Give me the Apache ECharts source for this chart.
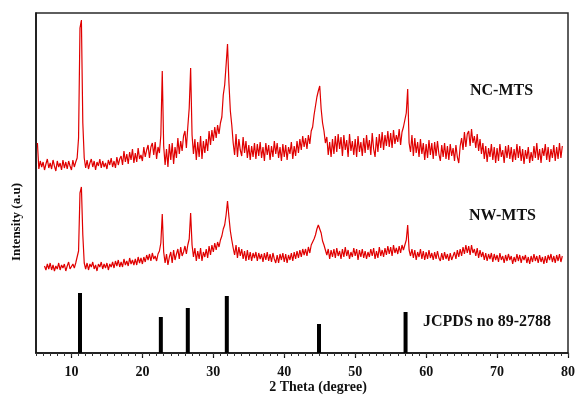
<!DOCTYPE html>
<html><head><meta charset="utf-8">
<script src="https://cdn.jsdelivr.net/npm/echarts@6/dist/echarts.min.js"></script>
<style>html,body{margin:0;padding:0;background:#fff}#c{width:578px;height:397px}</style>
</head><body><div id="c"></div>
<script>
// 2-theta sampling of the traces (degrees)
const ncStart = 5.2, nwStart = 6.2, thetaStep = 0.2;

// NC-MTS intensity (a.u., offset trace), one value per 0.2 deg from 5.2
const ncMts = [
  210,184,192,186,
  191,183,189,194,185, 190,184,193,187,182, 192,186,190,183,193, 185,191,184,192,187,
  183,193,186,191,195, 215,325,333,230,195, 185,193,184,190,194, 186,192,183,191,187,
  194,185,192,186,190, 184,193,188,195,186, 192,185,196,188,194, 197,188,202,191,199,
  189,201,193,204,190, 200,191,205,194,198, 192,206,196,203,208, 195,206,210,198,211,
  194,206,200,218,282, 207,188,204,186,209, 193,210,189,206,195, 215,199,212,202,217,
  222,205,226,245,285, 218,199,214,193,211, 196,217,194,212,200, 214,202,222,208,223,
  212,226,215,228,219, 230,236,258,268,288, 309,270,242,228,210, 198,219,196,214,203,
  197,216,200,212,195, 208,193,207,196,210, 194,209,197,211,195, 206,192,210,198,208,
  193,207,196,212,199, 210,195,206,192,209, 196,208,193,206,199, 211,194,207,197,212,
  200,214,203,217,206, 215,204,218,209,222, 226,238,247,256,262, 267,244,230,222,210,
  216,198,211,196,214, 199,217,201,219,204, 216,197,218,203,213, 196,219,202,212,198,
  214,196,217,201,211, 197,215,200,218,203, 213,198,220,204,196, 216,201,219,205,221,
  203,218,207,222,206, 220,205,223,209,218, 211,224,208,221,226, 228,240,264,210,201,
  218,197,215,200,211, 196,214,199,210,193, 209,195,213,198,210, 194,211,197,212,199,
  192,208,196,210,194, 207,193,209,197,205, 192,208,196,190,207, 215,203,221,206,219,
  222,207,224,210,217, 205,219,202,214,199, 210,194,207,191,205, 196,209,193,206,190,
  205,192,209,196,203, 190,207,195,208,194, 206,191,204,193,209, 195,207,192,204,189,
  203,194,206,190,201, 192,207,195,210,193, 204,190,205,197,209, 193,206,191,204,195,
  208,192,206,194,210, 195,207
];

// NW-MTS intensity (a.u., offset trace), one value per 0.2 deg from 6.2
const nwMts = [
  87,83,89,84,
  90,83,88,82,87, 84,90,83,88,85, 89,82,87,91,84, 83,89,85,90,92,
  102,160,166,118,90, 84,90,83,89,86, 91,84,88,82,89, 86,91,84,89,85,
  90,83,89,86,91, 85,92,87,93,86, 91,86,94,88,92, 87,95,89,93,88,
  94,88,96,90,95, 89,96,91,98,93, 99,92,100,94,97, 92,99,102,110,139,
  101,90,99,88,96, 101,90,103,93,99, 104,94,106,97,101, 107,99,108,114,140,
  108,96,105,92,102, 94,105,92,101,96, 104,95,107,98,108, 101,110,103,111,106,
  113,117,124,128,138, 152,136,122,113,105, 98,108,95,106,97, 104,94,102,92,103,
  93,101,92,100,95, 101,92,100,94,99, 91,100,93,101,92, 99,91,100,94,90,
  98,90,99,93,100, 91,99,90,98,93, 100,92,101,94,102, 95,103,96,104,98,
  104,97,106,100,108, 110,114,118,124,128, 130,120,112,108,103, 98,104,94,103,96,
  104,95,105,97,102, 94,104,96,106,97, 103,94,101,96,105, 97,104,93,103,96,
  104,95,102,94,101, 96,104,97,105,94, 102,95,106,97,103, 96,105,98,107,99,
  106,97,108,100,105, 99,107,100,108,103, 108,113,128,103,97, 104,95,103,93,101,
  96,104,94,102,93, 101,94,103,95,100, 93,101,94,102,95, 92,100,93,101,94,
  99,92,100,93,97, 101,94,103,96,104, 97,106,99,108,100, 107,98,108,100,104,
  97,105,95,103,96, 101,93,100,92,99, 94,100,91,99,93, 98,91,100,93,97,
  90,98,92,99,93, 97,89,96,91,99, 92,98,90,97,93, 98,90,96,89,97,
  91,99,92,97,90, 98,91,96,89,97, 90,98,93,99,91, 97,90,98,92,99,
  91,97
];

// JCPDS no 89-2788 reference lines
const jcpdsTheta = [11.2, 22.6, 26.4, 31.9, 44.9, 57.1];
const jcpdsIntensity = [60, 36, 45, 57, 29, 41];

// x-axis labelled ticks
const xTickValues = [10, 20, 30, 40, 50, 60, 70, 80];

const toPairs = (arr, start) => arr.map((v, i) => [+(start + i * thetaStep).toFixed(1), v]);

const chart = echarts.init(document.getElementById('c'), null, {renderer: 'canvas'});
const serif = '"Liberation Serif", "Times New Roman", serif';
const red = '#e00000';

chart.setOption({
  animation: false,
  backgroundColor: '#fff',
  grid: {left: 36, right: 6, top: 13, bottom: 44, show: true, borderColor: '#2a2a2a', borderWidth: 1.5, backgroundColor: 'transparent'},
  xAxis: [{
    type: 'value', min: 5, max: 80, interval: 1,
    axisLine: {show: true, lineStyle: {color: '#111', width: 1.5}},
    axisTick: {show: true, customValues: xTickValues, length: 5, inside: false, lineStyle: {color: '#111', width: 1.2}},
    axisLabel: {show: true, customValues: xTickValues, margin: 12, fontFamily: serif, fontWeight: 'bold', fontSize: 14, color: '#111'},
    splitLine: {show: false}
  }, {
    type: 'value', min: 5, max: 80, interval: 1, position: 'bottom',
    axisLine: {show: false},
    axisTick: {show: true, length: 3, inside: false, lineStyle: {color: '#333', width: 1}},
    axisLabel: {show: false},
    splitLine: {show: false}
  }],
  yAxis: {
    type: 'value', min: 0, max: 340,
    axisLine: {show: true, lineStyle: {color: '#111', width: 1.5}},
    axisTick: {show: false}, axisLabel: {show: false}, splitLine: {show: false}
  },
  series: [
    {type: 'line', name: 'NC-MTS', data: toPairs(ncMts, ncStart), showSymbol: false, symbol: 'none',
     lineStyle: {color: red, width: 1.2}, z: 3},
    {type: 'line', name: 'NW-MTS', data: toPairs(nwMts, nwStart), showSymbol: false, symbol: 'none',
     lineStyle: {color: red, width: 1.2}, z: 3},
    {type: 'bar', name: 'JCPDS no 89-2788', data: jcpdsTheta.map((t, i) => [t, jcpdsIntensity[i]]),
     barWidth: 4, itemStyle: {color: '#000'}}
  ],
  graphic: [
    {type: 'text', x: 470, y: 91, style: {text: 'NC-MTS', font: 'bold 16px ' + serif, fill: '#111', textVerticalAlign: 'middle', verticalAlign: 'middle'}},
    {type: 'text', x: 469, y: 216, style: {text: 'NW-MTS', font: 'bold 16px ' + serif, fill: '#111', textVerticalAlign: 'middle', verticalAlign: 'middle'}},
    {type: 'text', x: 423, y: 322, style: {text: 'JCPDS no 89-2788', font: 'bold 16px ' + serif, fill: '#111', textVerticalAlign: 'middle', verticalAlign: 'middle'}},
    {type: 'text', x: 318, y: 387, style: {text: '2 Theta (degree)', font: 'bold 14px ' + serif, fill: '#111', textAlign: 'center', align: 'center', textVerticalAlign: 'middle', verticalAlign: 'middle'}},
    {type: 'text', x: 17, y: 222, rotation: Math.PI / 2, style: {text: 'Intensity (a.u)', font: 'bold 13px ' + serif, fill: '#111', textAlign: 'center', align: 'center', textVerticalAlign: 'middle', verticalAlign: 'middle'}}
  ]
});
</script></body></html>
